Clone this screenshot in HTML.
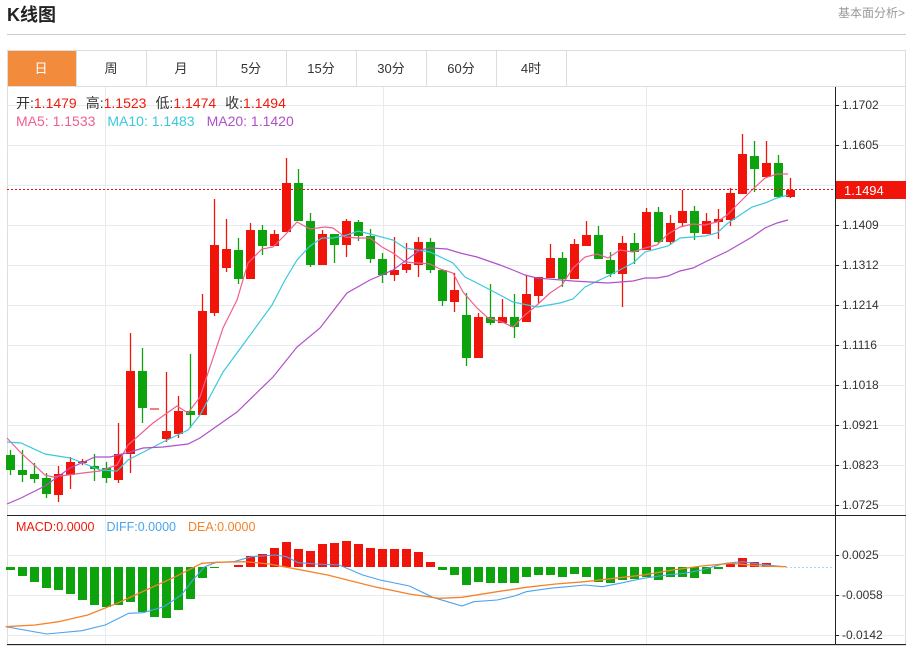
<!DOCTYPE html>
<html><head><meta charset="utf-8"><style>
body{margin:0;background:#fff;width:917px;height:646px;overflow:hidden;font-family:"Liberation Sans","Noto Sans CJK SC",sans-serif;}
svg{position:absolute;left:0;top:0}
</style></head><body>
<svg width="917" height="646" xmlns="http://www.w3.org/2000/svg" id="s" font-family="Liberation Sans, Noto Sans CJK SC, sans-serif">
<text x="7" y="21" font-size="18" font-weight="bold" fill="#222">K线图</text>
<text x="838" y="17" font-size="12" fill="#999">基本面分析&gt;</text>
<line x1="7" y1="34.5" x2="906" y2="34.5" stroke="#ccc"/>
<rect x="7.5" y="50.5" width="898" height="595" fill="none" stroke="#ddd"/>
<line x1="7" y1="86.5" x2="906" y2="86.5" stroke="#ddd"/>
<rect x="8" y="51" width="68" height="35" fill="#f28c3c"/>
<g stroke="#ddd"><line x1="76.5" y1="51" x2="76.5" y2="86"/><line x1="146.5" y1="51" x2="146.5" y2="86"/><line x1="216.5" y1="51" x2="216.5" y2="86"/><line x1="286.5" y1="51" x2="286.5" y2="86"/><line x1="356.5" y1="51" x2="356.5" y2="86"/><line x1="426.5" y1="51" x2="426.5" y2="86"/><line x1="496.5" y1="51" x2="496.5" y2="86"/><line x1="566.5" y1="51" x2="566.5" y2="86"/></g>
<g font-size="13" text-anchor="middle" fill="#333"><text x="41" y="73" fill="#fff">日</text><text x="111" y="73">周</text><text x="181" y="73">月</text><text x="251" y="73">5分</text><text x="321" y="73">15分</text><text x="391" y="73">30分</text><text x="461" y="73">60分</text><text x="531" y="73">4时</text></g>
<g id="grid" stroke="#e6ebf0"></g>
<g stroke="#e6ebf0"><line x1="105.5" y1="87" x2="105.5" y2="645"/><line x1="383.5" y1="87" x2="383.5" y2="645"/><line x1="646.5" y1="87" x2="646.5" y2="645"/></g>
<line x1="835.5" y1="87" x2="835.5" y2="645" stroke="#222"/>
<line x1="7" y1="515.5" x2="906" y2="515.5" stroke="#222"/>
<line x1="7" y1="644.5" x2="906" y2="644.5" stroke="#222"/>
<g id="ticks" font-size="12" fill="#333"></g>
<g id="c"></g>
<g id="ma" fill="none" stroke-width="1.2"></g>
<line x1="7" y1="189.5" x2="835" y2="189.5" stroke="#f01010" stroke-dasharray="2,2"/>
<rect x="836" y="181" width="70" height="18" fill="#f0140a"/>
<text x="844" y="195" font-size="13" fill="#fff">1.1494</text>
<g font-size="14"><text x="16" y="108"><tspan fill="#333">开:</tspan><tspan fill="#f01a0a">1.1479</tspan><tspan fill="#333" dx="9">高:</tspan><tspan fill="#f01a0a">1.1523</tspan><tspan fill="#333" dx="9">低:</tspan><tspan fill="#f01a0a">1.1474</tspan><tspan fill="#333" dx="9">收:</tspan><tspan fill="#f01a0a">1.1494</tspan></text>
<text x="16" y="126"><tspan fill="#f06090">MA5: 1.1533</tspan><tspan fill="#3cc8dc" dx="12">MA10: 1.1483</tspan><tspan fill="#b050c8" dx="12">MA20: 1.1420</tspan></text></g>
<text x="16" y="531" font-size="12.5"><tspan fill="#f01a0a">MACD:0.0000</tspan><tspan fill="#4aa3f0" dx="12">DIFF:0.0000</tspan><tspan fill="#f5832a" dx="12">DEA:0.0000</tspan></text>
<g id="m"></g>
<line x1="786" y1="567.5" x2="833" y2="567.5" stroke="#a8d8f0" stroke-dasharray="2,2"/>
</svg>
<script>
var NS="http://www.w3.org/2000/svg";
function el(p,t,a){var e=document.createElementNS(NS,t);for(var k in a)e.setAttribute(k,a[k]);document.getElementById(p).appendChild(e);return e;}
[105,145,185,225,265,305,345,385,425,465,505,555,595,635].forEach(function(y){el("grid","line",{x1:7,x2:906,y1:y+.5,y2:y+.5});});
var tk=[["1.1702",105],["1.1605",145],["1.1409",225],["1.1312",265],["1.1214",305],["1.1116",345],["1.1018",385],["1.0921",425],["1.0823",465],["1.0725",505],["0.0025",555],["-0.0058",595],["-0.0142",635]];
tk.forEach(function(t){el("ticks","line",{x1:835,x2:839,y1:t[1]+.5,y2:t[1]+.5,stroke:"#222"});var e=el("ticks","text",{x:842,y:t[1]+4});e.textContent=t[0];});
var R="#f0140a",G="#0ca30c";
var C=[[G,455,470,450,475],[G,470,475,450,482],[G,474,479,463,483],[G,478,494,473,498],[R,474,495,466,502],[R,462,475,457,489],[R,461,463,459,465],[G,466,469,454,481],[G,468,478,462,483],[R,454,480,423,483],
[R,371,454,333,473],[G,371,408,348,423],["#f08080",408,410,408,410],[R,431,439,372,442],[R,411,434,396,438],[G,411,415,354,428],[R,311,415,294,415],[R,245,313,199,316],[R,249,268,219,272],[G,250,279,238,284],
[R,230,279,223,279],[G,230,246,225,255],[R,234,246,230,246],[R,183,232,158,232],[G,183,221,169,221],[G,221,265,213,267],[R,234,265,230,265],[G,234,245,234,263],[R,221,245,219,257],[G,222,236,220,241],
[G,236,259,229,263],[G,259,275,253,283],[R,270,275,237,281],[R,264,270,243,273],[R,242,265,237,277],[G,242,270,238,273],[G,270,301,270,306],[R,290,302,273,312],[G,315,358,293,366],[R,317,358,313,358],
[G,317,323,284,325],[R,317,323,299,323],[G,317,327,294,338],[R,294,322,275,322],[R,277,296,277,303],[R,258,278,244,278],[G,258,279,252,287],[R,244,279,239,279],[R,235,246,221,246],[G,235,259,226,259],
[G,260,274,252,277],[R,243,274,236,307],[G,243,252,233,264],[R,212,250,208,250],[G,212,242,207,244],[R,223,242,215,245],[R,211,223,190,227],[G,211,233,206,240],[R,221,234,213,234],[R,219,222,209,239],
[R,193,220,188,226],[R,154,194,134,194],[G,156,169,141,192],[R,163,177,141,177],[G,163,197,155,197],[R,190,197,178,198]];
C.forEach(function(c,i){var x=10+12*i;el("c","line",{x1:x+.5,x2:x+.5,y1:c[3],y2:c[4],stroke:c[0],"stroke-width":1.3});el("c","rect",{x:x-4,y:c[1],width:9,height:Math.max(1.5,c[2]-c[1]),fill:c[0]});});
function pl(g,col,pts,w){el(g,"polyline",{points:pts,stroke:col,"stroke-width":w||1.2,fill:"none"});}
pl("ma","#f06090","7,438 21,453 45,475 53,477 83,473 100,471 117,465 128,445 153,423 177,406 188,413 200,397 223,328 237,300 248,263 262,249 273,247 285,235 297,222 310,229 325,227 333,228 345,237 357,238 370,238 382,247 393,253 405,262 430,264 440,269 453,273 463,292 477,308 488,318 502,322 513,327 525,315 537,305 550,293 562,285 573,268 585,257 597,254 608,258 620,250 633,252 645,248 657,245 668,234 680,227 693,224 705,225 717,222 727,215 740,202 752,190 765,178 777,174 788,174");
pl("ma","#3cc8dc","7,442 21,443 45,454 70,458 83,463 100,470 117,471 128,460 163,442 188,430 200,415 223,372 248,338 272,305 285,280 297,260 310,246 322,238 333,238 347,235 358,231 370,234 393,240 405,248 430,252 453,263 465,277 477,283 500,295 513,302 537,307 560,303 573,299 585,287 608,276 633,263 645,252 668,246 680,238 705,236 717,233 728,223 740,215 752,207 765,203 777,198 788,195");
pl("ma","#b050c8","7,504 21,498 45,486 70,468 95,457 110,457 130,452 143,448 163,447 188,444 200,438 237,412 273,377 297,347 320,328 347,293 370,280 393,270 420,250 430,248 447,249 460,253 477,257 500,265 513,270 525,275 537,278 573,281 608,283 633,281 645,278 657,278 668,276 680,271 693,268 705,262 728,251 740,244 752,237 765,228 777,223 788,220");
var M=[570,576,582,588,590,594,600,605,607,605,602,612,617,618,610,599,578,568,567,565,556,554,548,542,549,551,544,543,541,544,548,549,549,549,552,562,570,575,585,582,583,583,583,577,575,575,577,574,577,582,583,580,579,577,580,577,577,578,574,569,563,558,562,563,566,567];
M.forEach(function(v,i){var x=10+12*i,z=567;if(Math.abs(v-z)<1)return;var r=v<z;el("m","rect",{x:x-4,y:Math.min(v,z),width:9,height:Math.abs(v-z),fill:r?R:G});});
function cv(s){return s.split(" ").map(function(p){var a=p.split(",");return (a[0]/1.71).toFixed(1)+","+(510+a[1]/3).toFixed(1);}).join(" ");}
pl("m","#4aa3f0",cv("10,350 80,372 140,362 180,345 220,310 245,308 280,290 310,255 330,210 350,170 370,157 400,155 430,140 470,135 490,140 510,158 540,162 580,165 620,195 650,210 700,228 740,262 790,288 810,275 850,270 880,258 900,245 940,235 970,230 1000,225 1030,230 1060,220 1100,205 1140,195 1170,190 1200,180 1240,160 1270,155 1300,163 1340,170"),1.1);
pl("m","#f5832a",cv("10,350 60,345 100,335 150,315 200,280 250,240 300,200 345,160 370,157 420,155 460,162 500,175 560,195 640,230 700,252 750,265 790,262 850,245 900,232 950,222 1000,215 1050,205 1100,195 1150,180 1200,168 1250,160 1300,168 1345,170"),1.3);
</script>
</body></html>
